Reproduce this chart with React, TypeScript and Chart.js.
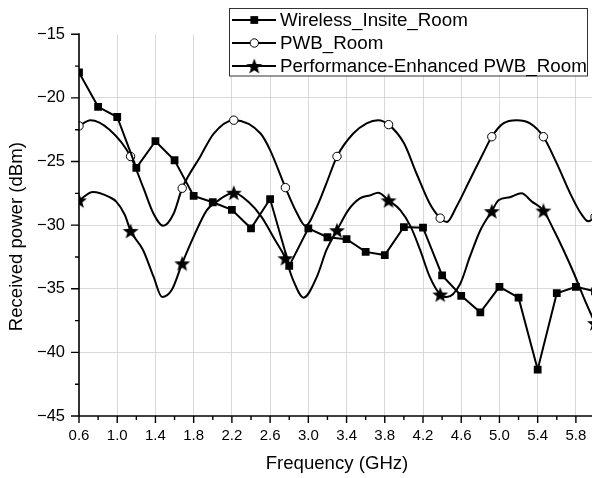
import React, { useEffect, useRef } from "react";
import { Chart, registerables } from "chart.js";

Chart.register(...registerables);

// ---------------- data ----------------
const seriesLabels = ["Wireless_Insite_Room", "PWB_Room", "Performance-Enhanced PWB_Room"];

const wirelessX = [0.6, 0.8, 1.0, 1.2, 1.4, 1.6, 1.8, 2.0, 2.2, 2.4, 2.6, 2.8, 3.0, 3.2, 3.4, 3.6, 3.8, 4.0, 4.2, 4.4, 4.6, 4.8, 5.0, 5.2, 5.4, 5.6, 5.8, 6.0];
const wirelessY = [-18.0, -20.7, -21.5, -25.5, -23.4, -24.9, -27.7, -28.2, -28.8, -30.25, -27.95, -33.2, -30.25, -30.95, -31.1, -32.1, -32.35, -30.15, -30.2, -33.95, -35.55, -36.85, -34.85, -35.7, -41.35, -35.35, -34.85, -35.2];

const pwbX = [0.6, 0.72, 0.92, 1.14, 1.27, 1.38, 1.48, 1.59, 1.68, 1.87, 2.01, 2.22, 2.5, 2.6, 2.76, 2.88, 2.97, 3.09, 3.19, 3.3, 3.47, 3.61, 3.73, 3.84, 4.0, 4.13, 4.27, 4.38, 4.45, 4.55, 4.69, 4.83, 4.92, 5.04, 5.18, 5.32, 5.46, 5.6, 5.74, 5.85, 5.93, 6.0];
const pwbY = [-22.2, -21.75, -22.5, -24.6, -27.0, -29.1, -30.05, -29.1, -27.1, -24.6, -22.8, -21.75, -22.8, -24.1, -27.05, -29.05, -30.05, -28.55, -26.7, -24.6, -22.8, -22.0, -21.75, -22.1, -23.55, -25.9, -28.3, -29.45, -29.75, -28.55, -26.45, -24.35, -23.05, -22.0, -21.75, -22.0, -23.05, -25.15, -27.5, -29.05, -29.7, -29.35];
const pwbMarks = [1, 0, 0, 1, 0, 0, 0, 0, 1, 0, 0, 1, 0, 0, 1, 0, 0, 0, 0, 1, 0, 0, 0, 1, 0, 0, 0, 1, 0, 0, 0, 0, 1, 0, 0, 0, 1, 0, 0, 0, 0, 1];

const enhX = [0.6, 0.745, 0.92, 0.99, 1.08, 1.14, 1.27, 1.38, 1.47, 1.57, 1.68, 1.8, 1.94, 2.04, 2.22, 2.37, 2.51, 2.65, 2.76, 2.84, 2.95, 3.09, 3.19, 3.3, 3.42, 3.54, 3.65, 3.73, 3.84, 3.96, 4.07, 4.17, 4.27, 4.38, 4.45, 4.59, 4.69, 4.8, 4.92, 4.99, 5.11, 5.23, 5.34, 5.46, 5.57, 5.67, 5.78, 5.88, 6.0];
const enhY = [-28.05, -27.4, -27.8, -28.15, -29.2, -30.45, -31.95, -34.05, -35.65, -35.1, -33.0, -30.9, -28.8, -28.15, -27.45, -28.15, -29.35, -31.15, -32.6, -34.3, -35.7, -34.05, -31.95, -30.4, -28.8, -27.9, -27.65, -27.45, -28.05, -28.8, -30.1, -31.95, -34.05, -35.45, -35.65, -34.6, -32.5, -30.4, -28.9, -28.05, -27.8, -27.5, -28.15, -28.85, -30.4, -31.95, -33.8, -35.65, -37.7];
const enhMarks = [1, 0, 0, 0, 0, 1, 0, 0, 0, 0, 1, 0, 0, 0, 1, 0, 0, 0, 1, 0, 0, 0, 0, 1, 0, 0, 0, 0, 1, 0, 0, 0, 0, 1, 0, 0, 0, 0, 1, 0, 0, 0, 0, 1, 0, 0, 0, 0, 1];

const xTickValues = [0.6, 1.0, 1.4, 1.8, 2.2, 2.6, 3.0, 3.4, 3.8, 4.2, 4.6, 5.0, 5.4, 5.8];
const xMinorTicks = [0.8, 1.2, 1.6, 2.0, 2.4, 2.8, 3.2, 3.6, 4.0, 4.4, 4.8, 5.2, 5.6];
const yTickValues = [-45, -40, -35, -30, -25, -20, -15];
const yMinorTicks = [-42.5, -37.5, -32.5, -27.5, -22.5, -17.5];

const xTitle = "Frequency (GHz)";
const yTitle = "Received power (dBm)";

// ---------------- helpers ----------------
const FONT = "'Liberation Sans', Arial, Helvetica, sans-serif";

function makeStar(size: number, outer: number, inner: number): HTMLCanvasElement {
  const c = document.createElement("canvas");
  c.width = size;
  c.height = size;
  const g = c.getContext("2d")!;
  g.beginPath();
  for (let i = 0; i < 10; i++) {
    const r = i % 2 === 0 ? outer : inner;
    const a = -Math.PI / 2 + (i * Math.PI) / 5;
    const px = size / 2 + r * Math.cos(a);
    const py = size / 2 + 0.8 + r * Math.sin(a);
    if (i === 0) g.moveTo(px, py);
    else g.lineTo(px, py);
  }
  g.closePath();
  g.fillStyle = "#000";
  g.fill();
  return c;
}

const toPoints = (xs: number[], ys: number[]) => xs.map((x, i) => ({ x, y: ys[i] }));

const CANVAS_W = 600;
const CANVAS_H = 478;

export default function App() {
  const ref = useRef<HTMLCanvasElement | null>(null);

  useEffect(() => {
    if (!ref.current) return;
    const star = makeStar(18, 8.4, 3.5);
    const SQ_R = 5.5;

    const decor = {
      id: "decor",
      afterDraw(chart: any) {
        const { ctx, chartArea } = chart;
        const xs = chart.scales.x;
        const ys = chart.scales.y;
        ctx.save();
        ctx.strokeStyle = "#000";
        ctx.lineWidth = 1.6;
        // axes
        ctx.beginPath();
        ctx.moveTo(chartArea.left, chartArea.top - 1);
        ctx.lineTo(chartArea.left, chartArea.bottom);
        ctx.lineTo(chartArea.right + 5, chartArea.bottom);
        ctx.stroke();
        // ticks
        ctx.lineWidth = 1.4;
        ctx.beginPath();
        xTickValues.forEach((v) => {
          const px = xs.getPixelForValue(v);
          ctx.moveTo(px, chartArea.bottom);
          ctx.lineTo(px, chartArea.bottom + 7);
        });
        xMinorTicks.forEach((v) => {
          const px = xs.getPixelForValue(v);
          ctx.moveTo(px, chartArea.bottom);
          ctx.lineTo(px, chartArea.bottom + 4);
        });
        yTickValues.forEach((v) => {
          const py = ys.getPixelForValue(v);
          ctx.moveTo(chartArea.left, py);
          ctx.lineTo(chartArea.left - 8, py);
        });
        yMinorTicks.forEach((v) => {
          const py = ys.getPixelForValue(v);
          ctx.moveTo(chartArea.left, py);
          ctx.lineTo(chartArea.left - 4, py);
        });
        ctx.stroke();

        // y title
        ctx.save();
        ctx.translate(17, (chartArea.top + chartArea.bottom) / 2 + 11.5);
        ctx.rotate(-Math.PI / 2);
        ctx.font = `18.6px ${FONT}`;
        ctx.fillStyle = "#000";
        ctx.textAlign = "center";
        ctx.textBaseline = "middle";
        ctx.fillText(yTitle, 0, 0);
        ctx.restore();

        // legend
        const bx = 229.5, by = 8.5, bw = 358, bh = 67.5;
        ctx.fillStyle = "#fff";
        ctx.fillRect(bx, by, bw, bh);
        ctx.strokeStyle = "#333";
        ctx.lineWidth = 1;
        ctx.strokeRect(bx, by, bw, bh);
        const rows = [20, 43, 66];
        ctx.font = `18.8px ${FONT}`;
        ctx.textAlign = "left";
        ctx.textBaseline = "middle";
        rows.forEach((ry, i) => {
          ctx.strokeStyle = "#000";
          ctx.lineWidth = 2;
          ctx.beginPath();
          ctx.moveTo(232, ry);
          ctx.lineTo(276, ry);
          ctx.stroke();
          const mx = 254.3;
          if (i === 0) {
            const s = SQ_R * Math.SQRT1_2;
            ctx.fillStyle = "#000";
            ctx.fillRect(mx - s, ry - s, 2 * s, 2 * s);
          } else if (i === 1) {
            ctx.beginPath();
            ctx.arc(mx, ry, 4.2, 0, Math.PI * 2);
            ctx.fillStyle = "#fff";
            ctx.fill();
            ctx.lineWidth = 1;
            ctx.strokeStyle = "#000";
            ctx.stroke();
          } else {
            ctx.drawImage(star, mx - star.width / 2, ry - star.height / 2);
          }
          ctx.fillStyle = "#000";
          ctx.fillText(seriesLabels[i], 280, ry + 1);
        });
        ctx.restore();
      },
    };

    const chart = new Chart(ref.current, {
      type: "line",
      data: {
        datasets: [
          {
            label: seriesLabels[0],
            data: toPoints(wirelessX, wirelessY),
            borderColor: "#000",
            borderWidth: 2,
            tension: 0,
            pointStyle: "rect",
            pointRadius: SQ_R,
            pointBackgroundColor: "#000",
            pointBorderColor: "#000",
            pointBorderWidth: 0,
          },
          {
            label: seriesLabels[1],
            data: toPoints(pwbX, pwbY),
            borderColor: "#000",
            borderWidth: 2,
            cubicInterpolationMode: "monotone",
            tension: 0.4,
            pointStyle: "circle",
            pointRadius: (c: any) => (pwbMarks[c.dataIndex] ? 4.2 : 0),
            pointBackgroundColor: "#fff",
            pointBorderColor: "#000",
            pointBorderWidth: 1,
          },
          {
            label: seriesLabels[2],
            data: toPoints(enhX, enhY),
            borderColor: "#000",
            borderWidth: 2,
            cubicInterpolationMode: "monotone",
            tension: 0.4,
            pointStyle: star as any,
            pointRadius: (c: any) => (enhMarks[c.dataIndex] ? 8 : 0),
          },
        ],
      } as any,
      options: {
        responsive: false,
        animation: false,
        events: [],
        layout: { autoPadding: false, padding: { top: 34.3, left: 0, right: CANVAS_W - 595, bottom: 0 } },
        plugins: { legend: { display: false }, tooltip: { enabled: false } },
        scales: {
          x: {
            type: "linear",
            min: 0.6,
            max: 6.0,
            afterBuildTicks: (s: any) => {
              s.ticks = xTickValues.map((v) => ({ value: v }));
            },
            afterFit: (s: any) => {
              s.height = 62;
              s.paddingLeft = 0;
              s.paddingRight = 0;
            },
            grid: {
              drawTicks: false,
              color: (c: any) => (c.tick && Math.abs(c.tick.value - 0.6) < 1e-6 ? "rgba(0,0,0,0)" : "#d9d9d9"),
              lineWidth: 1,
            },
            border: { display: false },
            ticks: {
              autoSkip: false,
              maxRotation: 0,
              padding: 10.5,
              color: "#000",
              font: { family: FONT, size: 15 },
              callback: (v: any) => Number(v).toFixed(1),
            },
            title: {
              display: true,
              text: xTitle,
              color: "#000",
              font: { family: FONT, size: 18.6 },
              padding: { top: 0, bottom: 3 },
            },
          },
          y: {
            type: "linear",
            min: -45,
            max: -15,
            afterBuildTicks: (s: any) => {
              s.ticks = yTickValues.map((v) => ({ value: v }));
            },
            afterFit: (s: any) => {
              s.width = 79;
              s.paddingTop = 0;
              s.paddingBottom = 0;
            },
            grid: {
              drawTicks: false,
              color: (c: any) =>
                c.tick && (c.tick.value === -15 || c.tick.value === -45) ? "rgba(0,0,0,0)" : "#d9d9d9",
              lineWidth: 1,
            },
            border: { display: false },
            ticks: {
              autoSkip: false,
              padding: 14,
              color: "#000",
              font: { family: FONT, size: 16.5 },
              callback: (v: any) => (Number(v) < 0 ? "\u2212" + Math.abs(Number(v)) : String(v)),
            },
          },
        },
      } as any,
      plugins: [decor],
    });
    return () => chart.destroy();
  }, []);

  return (
    <div style={{ position: "fixed", left: 0, top: 0, width: 592, height: 478, overflow: "hidden", background: "#fff" }}>
      <canvas
        ref={ref}
        width={CANVAS_W}
        height={CANVAS_H}
        style={{ width: CANVAS_W, height: CANVAS_H, display: "block" }}
      />
    </div>
  );
}
